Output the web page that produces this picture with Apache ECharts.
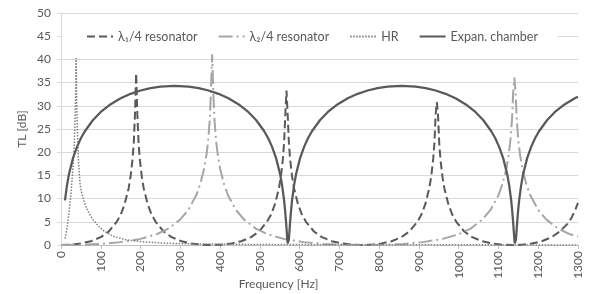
<!DOCTYPE html>
<html>
<head>
<meta charset="utf-8">
<script src="https://cdn.jsdelivr.net/npm/echarts@6/dist/echarts.min.js"></script>
<style>
  html, body { margin: 0; padding: 0; background: #fff; }
  #chart { width: 595px; height: 294px; }
</style>
</head>
<body>
<div id="chart"></div>
<script>
// legend / series names
const seriesNames = ['λ\u2081/4 resonator', 'λ\u2082/4 resonator', 'HR', 'Expan. chamber'];

// lambda1/4 resonator
const freqL1 = [0, 25, 50, 75, 100, 120, 140, 150, 160, 170, 175, 180, 183, 186, 189,
  192, 195, 198, 203, 208, 218, 228, 238, 258, 278, 303, 328, 353, 378,
  403, 428, 453, 478, 498, 518, 528, 538, 548, 553, 558, 561, 564, 567,
  570, 573, 576, 581, 586, 596, 606, 616, 636, 656, 681, 706, 731, 756,
  781, 806, 831, 856, 876, 896, 906, 916, 926, 931, 936, 939, 942, 945,
  948, 951, 954, 959, 964, 974, 984, 994, 1014, 1034, 1059, 1084, 1109, 1134,
  1159, 1184, 1209, 1234, 1254, 1274, 1284, 1294, 1300];
const tlL1 = [0, 0.08, 0.33, 0.81, 1.7, 2.91, 5.0, 6.5, 8.8, 12.2, 14.8, 18.6, 22.1, 28.1, 37.0,
  28.1, 22.1, 18.6, 14.8, 12.2, 8.8, 6.5, 5.0, 2.91, 1.7, 0.81, 0.33, 0.08, 0,
  0.08, 0.33, 0.81, 1.7, 2.91, 5.0, 6.5, 8.8, 12.2, 14.8, 18.6, 22.1, 28.1, 33.3,
  28.1, 22.1, 18.6, 14.8, 12.2, 8.8, 6.5, 5.0, 2.91, 1.7, 0.81, 0.33, 0.08, 0,
  0.08, 0.33, 0.81, 1.7, 2.91, 5.0, 6.5, 8.8, 12.2, 14.8, 18.6, 22.1, 28.1, 30.8,
  28.1, 22.1, 18.6, 14.8, 12.2, 8.8, 6.5, 5.0, 2.91, 1.7, 0.81, 0.33, 0.08, 0,
  0.08, 0.33, 0.81, 1.7, 2.91, 4.6, 5.9, 7.8, 9.1];

// lambda2/4 resonator
const freqL2 = [0, 50, 100, 150, 200, 240, 270, 300, 320, 340, 350, 360, 366, 370, 374, 377, 380,
  383, 386, 390, 394, 400, 410, 420, 440, 460, 490, 520, 560, 610, 660, 710, 760,
  810, 860, 910, 960, 1000, 1030, 1060, 1080, 1100, 1110, 1120, 1126, 1130, 1134, 1137, 1140,
  1143, 1146, 1150, 1154, 1160, 1170, 1180, 1200, 1220, 1250, 1280, 1300];
const tlL2 = [0, 0.06, 0.24, 0.62, 1.32, 2.31, 3.53, 5.52, 7.55, 10.7, 13.1, 16.5, 19.6, 22.5, 26.9, 32.9, 41.1,
  32.9, 26.9, 22.5, 19.6, 16.5, 13.1, 10.7, 7.55, 5.52, 3.53, 2.31, 1.32, 0.62, 0.24, 0.06, 0,
  0.06, 0.24, 0.62, 1.32, 2.31, 3.53, 5.52, 7.55, 10.7, 13.1, 16.5, 19.6, 22.5, 26.9, 32.9, 36.1,
  32.9, 26.9, 22.5, 19.6, 16.5, 13.1, 10.7, 7.55, 5.52, 3.53, 2.31, 1.8];

// Helmholtz resonator
const freqHR = [10, 15, 20, 25, 30, 33, 35, 37, 38, 39, 41, 44, 48, 52, 60, 70, 80, 95, 110, 130,
  165, 200, 250, 300, 400, 500, 700, 1000, 1300];
const tlHR = [1.4, 3.5, 6.8, 11, 16.5, 21, 26, 33, 40.3, 33, 25.5, 18, 13, 11.2, 8.8, 6.9, 5.5, 4.0, 2.9, 1.9,
  1.1, 0.75, 0.45, 0.3, 0.17, 0.11, 0.06, 0.03, 0.02];

// expansion chamber
const freqEC = [10, 15, 20, 30, 40, 50, 60, 80, 100, 125, 150, 175, 200, 225, 250, 285,
  321, 346, 371, 396, 421, 446, 471, 491, 511, 521, 531, 541, 551, 556, 561, 563.5, 566, 568, 569, 570, 571,
  572, 573, 574, 576, 578.5, 581, 586, 591, 601, 611, 621, 631, 651, 671, 696, 721, 746, 771, 796, 821, 856.5,
  892, 917, 942, 967, 992, 1017, 1042, 1062, 1082, 1092, 1102, 1112, 1122, 1127, 1132, 1134.5, 1137, 1139, 1140, 1141, 1142,
  1143, 1144, 1145, 1147, 1149.5, 1152, 1157, 1162, 1172, 1182, 1192, 1202, 1222, 1242, 1267, 1292, 1300];
const tlEC = [9.6, 12.85, 15.24, 18.67, 21.09, 23.0, 24.52, 26.89, 28.67, 30.35, 31.62, 32.58, 33.3, 33.81, 34.13, 34.3,
  34.13, 33.81, 33.3, 32.58, 31.62, 30.35, 28.67, 26.89, 24.52, 23.0, 21.09, 18.67, 15.24, 12.85, 9.6, 7.46, 4.82, 2.39, 1.22, 0.34, 0,
  0.34, 1.22, 2.39, 4.82, 7.46, 9.6, 12.85, 15.24, 18.67, 21.09, 23.0, 24.52, 26.89, 28.67, 30.35, 31.62, 32.58, 33.3, 33.81, 34.13, 34.3,
  34.13, 33.81, 33.3, 32.58, 31.62, 30.35, 28.67, 26.89, 24.52, 23.0, 21.09, 18.67, 15.24, 12.85, 9.6, 7.46, 4.82, 2.39, 1.22, 0.34, 0,
  0.34, 1.22, 2.39, 4.82, 7.46, 9.6, 12.85, 15.24, 18.67, 21.09, 23.0, 24.52, 26.89, 28.67, 30.35, 31.62, 31.96];

function pairs(xs, ys) {
  return xs.map((x, i) => [x, ys[i]]);
}

const font = 'Lato, "Noto Sans", sans-serif';
const textColor = '#595959';

const chart = echarts.init(document.getElementById('chart'), null, { renderer: 'canvas' });

function lineSeries(name, data, color, width, dash) {
  return {
    name: name,
    type: 'line',
    data: data,
    symbol: 'none',
    showSymbol: false,
    smooth: false,
    lineStyle: { color: color, width: width, type: dash, cap: 'butt' },
    itemStyle: { color: color },
    emphasis: { disabled: true }
  };
}

// fixed text widths so the legend items sit where they are in the picture
const legendWidths = [83, 82, 16, 93];

chart.setOption({
  animation: false,
  grid: { left: 61, right: 17, top: 13, bottom: 49, outerBoundsMode: 'none', containLabel: false },
  legend: {
    data: seriesNames.map((n, i) => ({ name: n, textStyle: { width: legendWidths[i] } })),
    left: 62,
    top: 26,
    padding: [4, 20, 4, 24],
    backgroundColor: '#fff',
    itemWidth: 26,
    itemHeight: 14,
    itemGap: 20,
    itemStyle: { color: 'rgba(0,0,0,0)', borderWidth: 0 },
    textStyle: { fontFamily: font, fontSize: 12.5, color: textColor }
  },
  xAxis: {
    type: 'value',
    min: 0,
    max: 1300,
    interval: 100,
    name: 'Frequency [Hz]',
    nameLocation: 'middle',
    nameGap: 33,
    nameMoveOverlap: false,
    nameTextStyle: { fontFamily: font, fontSize: 12, color: textColor, padding: [0, 82, 0, 0] },
    axisLine: { show: true, lineStyle: { color: '#bfbfbf', width: 1 } },
    axisTick: { show: true, length: 4, lineStyle: { color: '#bfbfbf' } },
    axisLabel: { rotate: 90, margin: 6, fontFamily: font, fontSize: 12, color: textColor,
      formatter: v => String(v) },
    splitLine: { show: false }
  },
  yAxis: {
    type: 'value',
    min: 0,
    max: 50,
    interval: 5,
    name: 'TL [dB]',
    nameLocation: 'middle',
    nameGap: 33,
    nameMoveOverlap: false,
    nameTextStyle: { fontFamily: font, fontSize: 12, color: textColor },
    axisLine: { show: true, lineStyle: { color: '#d9d9d9', width: 1 } },
    axisTick: { show: true, length: 4, lineStyle: { color: '#d9d9d9' } },
    axisLabel: { margin: 10, fontFamily: font, fontSize: 12, color: textColor },
    splitLine: { show: true, lineStyle: { color: '#d9d9d9', width: 1 } }
  },
  series: [
    lineSeries(seriesNames[0], pairs(freqL1, tlL1), '#595959', 2, [8, 4]),
    lineSeries(seriesNames[1], pairs(freqL2, tlL2), '#a6a6a6', 2, [14, 4, 2, 4]),
    lineSeries(seriesNames[2], pairs(freqHR, tlHR), '#7f7f7f', 1.5, [1.5, 1.5]),
    lineSeries(seriesNames[3], pairs(freqEC, tlEC), '#595959', 2.25, 'solid')
  ]
});
</script>
</body>
</html>
